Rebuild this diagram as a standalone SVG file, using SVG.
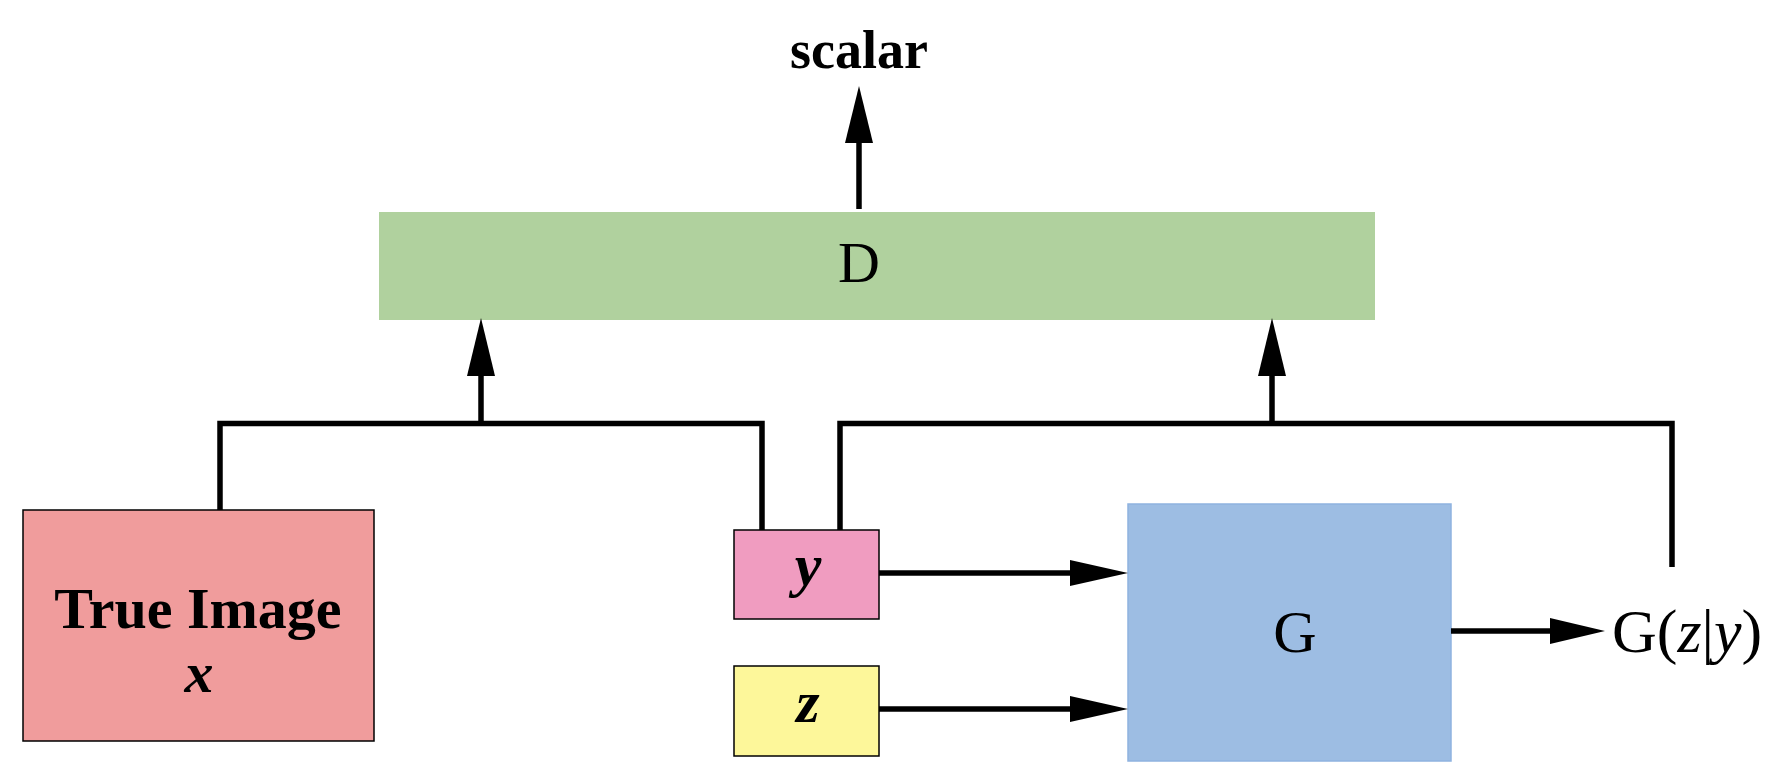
<svg xmlns="http://www.w3.org/2000/svg" width="1785" height="780" viewBox="0 0 1785 780">
<style>
.t{font-family:"Liberation Serif","Times New Roman",serif;fill:#000}
.ln{stroke:#000;stroke-width:5.5;fill:none}
.ah{fill:#000}
.bx{stroke:#000;stroke-width:1.5}
</style>
<rect width="1785" height="780" fill="#fff"/>
<g id="scalar"><text class="t" x="859" y="68" font-size="54" font-weight="bold" text-anchor="middle">scalar</text></g>
<g id="D"><rect x="379" y="212" width="996" height="108" fill="#b0d19e"/><text class="t" x="859" y="282" font-size="58" text-anchor="middle">D</text></g>
<g id="true-image"><rect class="bx" x="23" y="510" width="351" height="231" fill="#f09c9c"/><text class="t" x="198" y="628" font-size="58" font-weight="bold" text-anchor="middle">True Image</text><text class="t" x="199" y="692" font-size="58" font-weight="bold" font-style="italic" text-anchor="middle">x</text></g>
<g id="y"><rect class="bx" x="734" y="530" width="145" height="89" fill="#f09cc0"/><text class="t" x="808" y="585" font-size="60" font-weight="bold" font-style="italic" text-anchor="middle">y</text></g>
<g id="z"><rect class="bx" x="734" y="666" width="145" height="90" fill="#fdf79a"/><text class="t" x="808" y="722" font-size="60" font-weight="bold" font-style="italic" text-anchor="middle">z</text></g>
<g id="G"><rect x="1128" y="504" width="323" height="257" fill="#9dbde3" stroke="#8fb3e0" stroke-width="1.5"/><text class="t" x="1295" y="652" font-size="60" text-anchor="middle">G</text></g>
<g id="output"><text class="t" x="1612" y="652" font-size="62">G(<tspan font-style="italic">z</tspan>|<tspan font-style="italic">y</tspan>)</text></g>
<g id="connectors">
<path class="ln" d="M859 209V140"/><polygon class="ah" points="859,86 845,143 873,143"/>
<path class="ln" d="M220 510V423.5H762V530"/>
<path class="ln" d="M481 423.5V372"/><polygon class="ah" points="481,318 467,376 495,376"/>
<path class="ln" d="M840 530V423.5H1672V567"/>
<path class="ln" d="M1272 423.5V372"/><polygon class="ah" points="1272,318 1258,376 1286,376"/>
<path class="ln" d="M879 573H1072"/><polygon class="ah" points="1128,573 1070,560 1070,586"/>
<path class="ln" d="M879 709H1072"/><polygon class="ah" points="1128,709 1070,696 1070,722"/>
<path class="ln" d="M1451 631H1552"/><polygon class="ah" points="1605,631 1550,618 1550,644"/>
</g>
</svg>
